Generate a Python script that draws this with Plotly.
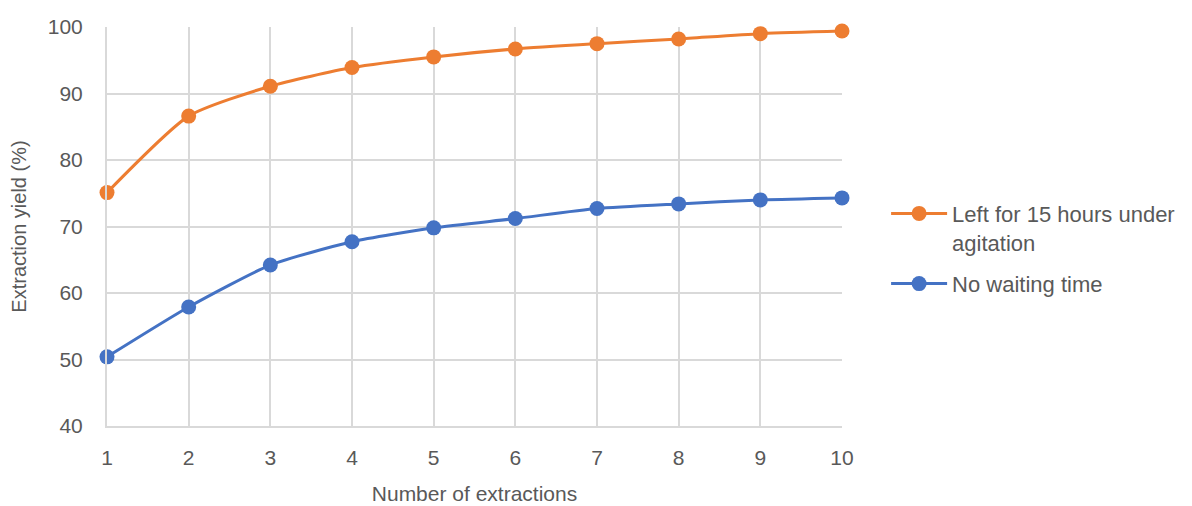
import plotly.graph_objects as go

extractions = [1, 2, 3, 4, 5, 6, 7, 8, 9, 10]
agitated_yield = [75.1, 86.6, 91.1, 93.9, 95.5, 96.7, 97.5, 98.2, 99.0, 99.4]
no_wait_yield = [50.4, 57.9, 64.2, 67.7, 69.8, 71.2, 72.7, 73.4, 74.0, 74.3]

FONT = "Liberation Sans, Arial, sans-serif"
TEXT = "#595959"
GRID = "#d9d9d9"

fig = go.Figure()
fig.add_trace(go.Scatter(
    x=extractions, y=agitated_yield, mode="lines+markers",
    name="Left for 15 hours under<br>agitation", legendgroup="agitated",
    line=dict(color="#ed7d31", width=3, shape="spline", smoothing=0.6),
    marker=dict(color="#ed7d31", size=15),
    cliponaxis=False,
))
fig.add_trace(go.Scatter(
    x=extractions, y=no_wait_yield, mode="lines+markers",
    name="No waiting time", legendgroup="nowait",
    line=dict(color="#4472c4", width=3, shape="spline", smoothing=0.6),
    marker=dict(color="#4472c4", size=15),
    cliponaxis=False,
))

fig.update_layout(
    width=1192, height=506,
    margin=dict(l=107, r=350, t=27, b=80),
    paper_bgcolor="white", plot_bgcolor="white",
    font=dict(family=FONT, color=TEXT, size=21),
    legend=dict(
        x=1.06, y=0.585, xanchor="left", yanchor="top",
        font=dict(size=22, color=TEXT), tracegroupgap=10,
        itemwidth=56, valign="top",
    ),
    xaxis=dict(
        range=[1, 10], tickvals=extractions, ticks="",
        showgrid=True, gridcolor=GRID, gridwidth=2,
        showline=True, linecolor=GRID, linewidth=2,
        zeroline=False, tickfont=dict(size=21, color=TEXT),
        ticklabelstandoff=12, automargin=False,
        title=dict(text="Number of extractions", font=dict(size=21, color=TEXT), standoff=18),
    ),
    yaxis=dict(
        range=[40, 100], dtick=10, ticks="",
        showgrid=True, gridcolor=GRID, gridwidth=2,
        showline=True, linecolor=GRID, linewidth=2,
        zeroline=False, tickfont=dict(size=21, color=TEXT),
        ticklabelstandoff=18, automargin=False,
        title=dict(text="Extraction yield (%)", font=dict(size=20, color=TEXT), standoff=16),
    ),
)

fig.write_html("out.html")
